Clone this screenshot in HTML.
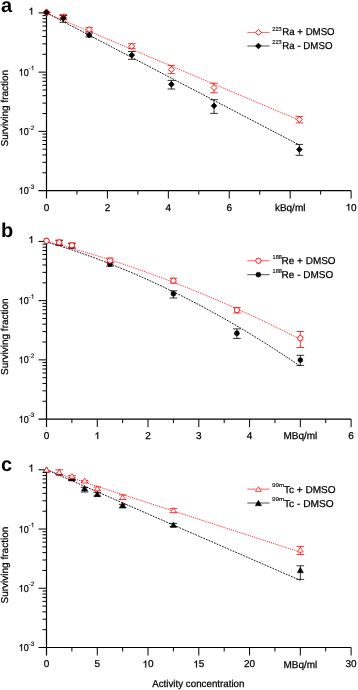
<!DOCTYPE html>
<html><head><meta charset="utf-8"><style>
html,body{margin:0;padding:0;background:#fff;width:358px;height:690px;overflow:hidden}
svg{display:block;font-family:"Liberation Sans",sans-serif;will-change:transform}
text{fill:#000;stroke:#000;stroke-width:0.25px;text-rendering:geometricPrecision}
text.s{stroke-width:0.12px}
</style></head><body>
<svg width="358" height="690" viewBox="0 0 358 690">
<defs><filter id="bl" x="0" y="0" width="100%" height="100%"><feGaussianBlur stdDeviation="0.3"/></filter></defs>
<rect width="358" height="690" fill="#fff"/>
<g filter="url(#bl)">
<path d="M46.50 12.90L299.32 145.00" fill="none" stroke="#000" stroke-width="0.9" stroke-dasharray="1.8 1.1"/>
<path d="M46.50 13.20L299.32 120.27" fill="none" stroke="#ff0000" stroke-width="0.9" stroke-dasharray="1 1"/>
<path d="M46.5 12.9V198.59M38.5 190.59H351.1" stroke="#000" stroke-width="1.2" fill="none"/>
<path d="M38.5 12.90H46.5 M38.5 72.13H46.5 M42.5 54.30H46.5 M42.5 43.87H46.5 M42.5 36.47H46.5 M42.5 30.73H46.5 M42.5 26.04H46.5 M42.5 22.07H46.5 M42.5 18.64H46.5 M42.5 15.61H46.5 M38.5 131.36H46.5 M42.5 113.53H46.5 M42.5 103.10H46.5 M42.5 95.70H46.5 M42.5 89.96H46.5 M42.5 85.27H46.5 M42.5 81.30H46.5 M42.5 77.87H46.5 M42.5 74.84H46.5 M42.5 172.76H46.5 M42.5 162.33H46.5 M42.5 154.93H46.5 M42.5 149.19H46.5 M42.5 144.50H46.5 M42.5 140.53H46.5 M42.5 137.10H46.5 M42.5 134.07H46.5 M76.96 190.59V194.59 M107.42 190.59V198.59 M137.88 190.59V194.59 M168.34 190.59V198.59 M198.80 190.59V194.59 M229.26 190.59V198.59 M259.72 190.59V194.59 M290.18 190.59V198.59 M320.64 190.59V194.59 M351.10 190.59V198.59" stroke="#000" stroke-width="1" fill="none"/>
<path transform="translate(28.44 14.60) scale(0.004883 -0.004883)" d="M763 0H583V1105Q540 1064 470 1022Q360 958 224 905V1075Q330 1122 420 1190Q545 1285 605 1409H763Z" fill="#000" stroke="#000" stroke-width="51.2"/>
<g transform="matrix(0.9 0 0 1 2.870 0)"><path transform="translate(17.58 75.63) scale(0.004883 -0.004883)" d="M763 0H583V1105Q540 1064 470 1022Q360 958 224 905V1075Q330 1122 420 1190Q545 1285 605 1409H763Z" fill="#000" stroke="#000" stroke-width="51.2"/><text x="23.14" y="75.63" font-size="10">0</text></g>
<text x="28.60" y="70.33" font-size="6.5" class="s">-</text>
<path transform="translate(30.76 70.33) scale(0.003174 -0.003174)" d="M763 0H583V1105Q540 1064 470 1022Q360 958 224 905V1075Q330 1122 420 1190Q545 1285 605 1409H763Z" fill="#000" stroke="#000" stroke-width="47.3"/>
<g transform="matrix(0.9 0 0 1 2.870 0)"><path transform="translate(17.58 134.86) scale(0.004883 -0.004883)" d="M763 0H583V1105Q540 1064 470 1022Q360 958 224 905V1075Q330 1122 420 1190Q545 1285 605 1409H763Z" fill="#000" stroke="#000" stroke-width="51.2"/><text x="23.14" y="134.86" font-size="10">0</text></g>
<text x="28.60" y="129.56" font-size="6.5" class="s">-2</text>
<g transform="matrix(0.9 0 0 1 2.870 0)"><path transform="translate(17.58 194.09) scale(0.004883 -0.004883)" d="M763 0H583V1105Q540 1064 470 1022Q360 958 224 905V1075Q330 1122 420 1190Q545 1285 605 1409H763Z" fill="#000" stroke="#000" stroke-width="51.2"/><text x="23.14" y="194.09" font-size="10">0</text></g>
<text x="28.60" y="188.79" font-size="6.5" class="s">-3</text>
<text x="43.72" y="210.59" font-size="10">0</text>
<text x="104.64" y="210.59" font-size="10">2</text>
<text x="165.56" y="210.59" font-size="10">4</text>
<text x="226.48" y="210.59" font-size="10">6</text>
<text x="290.18" y="210.69" font-size="10" text-anchor="middle">kBq/ml</text>
<path transform="translate(345.54 210.59) scale(0.004883 -0.004883)" d="M763 0H583V1105Q540 1064 470 1022Q360 958 224 905V1075Q330 1122 420 1190Q545 1285 605 1409H763Z" fill="#000" stroke="#000" stroke-width="51.2"/>
<text x="351.10" y="210.59" font-size="10">0</text>
<text x="1.0" y="12.2" font-size="20" font-weight="bold" style="stroke-width:0">a</text>
<text transform="translate(8.4 108.20) rotate(-90)" font-size="10" text-anchor="middle">Surviving fraction</text>
<path d="M63.34 15.50V22.30M59.54 15.50H67.14M59.54 22.30H67.14" stroke="#000" stroke-width="0.8" fill="none"/>
<path d="M63.34 14.40V19.50M59.54 14.40H67.14M59.54 19.50H67.14" stroke="#ff0000" stroke-width="0.8" fill="none"/>
<path d="M89.14 33.00V37.00M85.34 33.00H92.94M85.34 37.00H92.94" stroke="#000" stroke-width="0.8" fill="none"/>
<path d="M89.14 27.60V31.40M85.34 27.60H92.94M85.34 31.40H92.94" stroke="#ff0000" stroke-width="0.8" fill="none"/>
<path d="M131.79 51.50V59.30M127.99 51.50H135.59M127.99 59.30H135.59" stroke="#000" stroke-width="0.8" fill="none"/>
<path d="M131.79 43.70V48.40M127.99 43.70H135.59M127.99 48.40H135.59" stroke="#ff0000" stroke-width="0.8" fill="none"/>
<path d="M171.39 80.40V89.00M167.59 80.40H175.19M167.59 89.00H175.19" stroke="#000" stroke-width="0.8" fill="none"/>
<path d="M171.39 65.40V73.70M167.59 65.40H175.19M167.59 73.70H175.19" stroke="#ff0000" stroke-width="0.8" fill="none"/>
<path d="M214.03 99.70V113.40M210.23 99.70H217.83M210.23 113.40H217.83" stroke="#000" stroke-width="0.8" fill="none"/>
<path d="M214.03 83.20V92.80M210.23 83.20H217.83M210.23 92.80H217.83" stroke="#ff0000" stroke-width="0.8" fill="none"/>
<path d="M299.32 144.40V155.30M295.52 144.40H303.12M295.52 155.30H303.12" stroke="#000" stroke-width="0.8" fill="none"/>
<path d="M299.32 116.40V122.90M295.52 116.40H303.12M295.52 122.90H303.12" stroke="#ff0000" stroke-width="0.8" fill="none"/>
<path d="M46.50 8.90L50.10 12.50L46.50 16.10L42.90 12.50Z" fill="#fff" stroke="#ff0000" stroke-width="1"/>
<path d="M63.34 14.40L66.34 17.40L63.34 20.40L60.34 17.40Z" fill="#fff" stroke="#ff0000" stroke-width="0.9"/>
<path d="M89.14 26.50L92.14 29.50L89.14 32.50L86.14 29.50Z" fill="#fff" stroke="#ff0000" stroke-width="0.9"/>
<path d="M131.79 43.30L134.79 46.30L131.79 49.30L128.79 46.30Z" fill="#fff" stroke="#ff0000" stroke-width="0.9"/>
<path d="M171.39 66.50L174.39 69.50L171.39 72.50L168.39 69.50Z" fill="#fff" stroke="#ff0000" stroke-width="0.9"/>
<path d="M214.03 84.60L217.03 87.60L214.03 90.60L211.03 87.60Z" fill="#fff" stroke="#ff0000" stroke-width="0.9"/>
<path d="M299.32 116.40L302.32 119.40L299.32 122.40L296.32 119.40Z" fill="#fff" stroke="#ff0000" stroke-width="0.9"/>
<path d="M46.50 9.65L49.35 12.50L46.50 15.35L43.65 12.50Z" fill="#000" stroke="#000" stroke-width="0.8"/>
<path d="M63.34 15.35L66.19 18.20L63.34 21.05L60.49 18.20Z" fill="#000" stroke="#000" stroke-width="0.8"/>
<path d="M89.14 32.25L91.99 35.10L89.14 37.95L86.29 35.10Z" fill="#000" stroke="#000" stroke-width="0.8"/>
<path d="M131.79 52.25L134.64 55.10L131.79 57.95L128.94 55.10Z" fill="#000" stroke="#000" stroke-width="0.8"/>
<path d="M171.39 81.45L174.24 84.30L171.39 87.15L168.54 84.30Z" fill="#000" stroke="#000" stroke-width="0.8"/>
<path d="M214.03 102.95L216.88 105.80L214.03 108.65L211.18 105.80Z" fill="#000" stroke="#000" stroke-width="0.8"/>
<path d="M299.32 146.65L302.17 149.50L299.32 152.35L296.47 149.50Z" fill="#000" stroke="#000" stroke-width="0.8"/>
<path d="M247.3 32.4H269.6" stroke="#ff6060" stroke-width="1"/>
<path d="M247.3 46.0H269.6" stroke="#666" stroke-width="1.15"/>
<path d="M258.40 29.40L261.40 32.40L258.40 35.40L255.40 32.40Z" fill="#fff" stroke="#ff0000" stroke-width="0.9"/>
<path d="M258.40 43.15L261.25 46.00L258.40 48.85L255.55 46.00Z" fill="#000" stroke="#000" stroke-width="0.8"/>
<text x="272.30" y="30.80" font-size="5.6" class="s" textLength="9.4" lengthAdjust="spacingAndGlyphs">223</text>
<text x="282.30" y="35.40" font-size="10" textLength="52.3" lengthAdjust="spacingAndGlyphs">Ra + DMSO</text>
<text x="272.30" y="44.40" font-size="5.6" class="s" textLength="9.4" lengthAdjust="spacingAndGlyphs">223</text>
<text x="282.30" y="49.00" font-size="10" textLength="50.2" lengthAdjust="spacingAndGlyphs">Ra - DMSO</text>
<path d="M46.50 241.92L51.58 243.44L56.65 245.01L61.73 246.61L66.81 248.25L71.88 249.93L76.96 251.65L82.04 253.41L87.11 255.21L92.19 257.04L97.27 258.92L102.34 260.84L107.42 262.79L112.50 264.79L117.57 266.82L122.65 268.89L127.73 271.01L132.80 273.16L137.88 275.35L142.96 277.58L148.03 279.85L153.11 282.16L158.19 284.51L163.26 286.90L168.34 289.33L173.42 291.79L178.49 294.30L183.57 296.84L188.65 299.43L193.72 302.05L198.80 304.72L203.88 307.42L208.95 310.16L214.03 312.94L219.11 315.76L224.18 318.62L229.26 321.52L234.34 324.46L239.41 327.44L244.49 330.46L249.57 333.51L254.64 336.61L259.72 339.75L264.80 342.92L269.87 346.13L274.95 349.39L280.03 352.68L285.10 356.01L290.18 359.38L295.26 362.79L300.33 366.24" fill="none" stroke="#000" stroke-width="0.9" stroke-dasharray="1.8 1.1"/>
<path d="M46.50 241.51L51.58 242.83L56.65 244.17L61.73 245.54L66.81 246.94L71.88 248.36L76.96 249.81L82.04 251.28L87.11 252.78L92.19 254.31L97.27 255.86L102.34 257.44L107.42 259.05L112.50 260.68L117.57 262.33L122.65 264.02L127.73 265.73L132.80 267.46L137.88 269.22L142.96 271.01L148.03 272.82L153.11 274.66L158.19 276.53L163.26 278.42L168.34 280.34L173.42 282.28L178.49 284.25L183.57 286.24L188.65 288.27L193.72 290.31L198.80 292.39L203.88 294.49L208.95 296.61L214.03 298.76L219.11 300.94L224.18 303.14L229.26 305.37L234.34 307.63L239.41 309.91L244.49 312.22L249.57 314.55L254.64 316.91L259.72 319.30L264.80 321.71L269.87 324.15L274.95 326.61L280.03 329.10L285.10 331.62L290.18 334.16L295.26 336.73L300.33 339.32" fill="none" stroke="#ff0000" stroke-width="0.9" stroke-dasharray="1 1"/>
<path d="M46.5 241.4V427.09000000000003M38.5 419.09000000000003H351.1" stroke="#000" stroke-width="1.2" fill="none"/>
<path d="M38.5 241.40H46.5 M38.5 300.63H46.5 M42.5 282.80H46.5 M42.5 272.37H46.5 M42.5 264.97H46.5 M42.5 259.23H46.5 M42.5 254.54H46.5 M42.5 250.57H46.5 M42.5 247.14H46.5 M42.5 244.11H46.5 M38.5 359.86H46.5 M42.5 342.03H46.5 M42.5 331.60H46.5 M42.5 324.20H46.5 M42.5 318.46H46.5 M42.5 313.77H46.5 M42.5 309.80H46.5 M42.5 306.37H46.5 M42.5 303.34H46.5 M42.5 401.26H46.5 M42.5 390.83H46.5 M42.5 383.43H46.5 M42.5 377.69H46.5 M42.5 373.00H46.5 M42.5 369.03H46.5 M42.5 365.60H46.5 M42.5 362.57H46.5 M71.88 419.09000000000003V423.09000000000003 M97.27 419.09000000000003V427.09000000000003 M122.65 419.09000000000003V423.09000000000003 M148.03 419.09000000000003V427.09000000000003 M173.42 419.09000000000003V423.09000000000003 M198.80 419.09000000000003V427.09000000000003 M224.18 419.09000000000003V423.09000000000003 M249.57 419.09000000000003V427.09000000000003 M274.95 419.09000000000003V423.09000000000003 M300.33 419.09000000000003V427.09000000000003 M325.72 419.09000000000003V423.09000000000003 M351.10 419.09000000000003V427.09000000000003" stroke="#000" stroke-width="1" fill="none"/>
<path transform="translate(28.44 243.10) scale(0.004883 -0.004883)" d="M763 0H583V1105Q540 1064 470 1022Q360 958 224 905V1075Q330 1122 420 1190Q545 1285 605 1409H763Z" fill="#000" stroke="#000" stroke-width="51.2"/>
<g transform="matrix(0.9 0 0 1 2.870 0)"><path transform="translate(17.58 304.13) scale(0.004883 -0.004883)" d="M763 0H583V1105Q540 1064 470 1022Q360 958 224 905V1075Q330 1122 420 1190Q545 1285 605 1409H763Z" fill="#000" stroke="#000" stroke-width="51.2"/><text x="23.14" y="304.13" font-size="10">0</text></g>
<text x="28.60" y="298.83" font-size="6.5" class="s">-</text>
<path transform="translate(30.76 298.83) scale(0.003174 -0.003174)" d="M763 0H583V1105Q540 1064 470 1022Q360 958 224 905V1075Q330 1122 420 1190Q545 1285 605 1409H763Z" fill="#000" stroke="#000" stroke-width="47.3"/>
<g transform="matrix(0.9 0 0 1 2.870 0)"><path transform="translate(17.58 363.36) scale(0.004883 -0.004883)" d="M763 0H583V1105Q540 1064 470 1022Q360 958 224 905V1075Q330 1122 420 1190Q545 1285 605 1409H763Z" fill="#000" stroke="#000" stroke-width="51.2"/><text x="23.14" y="363.36" font-size="10">0</text></g>
<text x="28.60" y="358.06" font-size="6.5" class="s">-2</text>
<g transform="matrix(0.9 0 0 1 2.870 0)"><path transform="translate(17.58 422.59) scale(0.004883 -0.004883)" d="M763 0H583V1105Q540 1064 470 1022Q360 958 224 905V1075Q330 1122 420 1190Q545 1285 605 1409H763Z" fill="#000" stroke="#000" stroke-width="51.2"/><text x="23.14" y="422.59" font-size="10">0</text></g>
<text x="28.60" y="417.29" font-size="6.5" class="s">-3</text>
<text x="43.72" y="439.09" font-size="10">0</text>
<path transform="translate(94.49 439.09) scale(0.004883 -0.004883)" d="M763 0H583V1105Q540 1064 470 1022Q360 958 224 905V1075Q330 1122 420 1190Q545 1285 605 1409H763Z" fill="#000" stroke="#000" stroke-width="51.2"/>
<text x="145.25" y="439.09" font-size="10">2</text>
<text x="196.02" y="439.09" font-size="10">3</text>
<text x="246.79" y="439.09" font-size="10">4</text>
<text x="300.33" y="439.19" font-size="10" text-anchor="middle">MBq/ml</text>
<text x="348.32" y="439.09" font-size="10">6</text>
<text x="1.0" y="237.3" font-size="20" font-weight="bold" style="stroke-width:0">b</text>
<text transform="translate(8.4 336.70) rotate(-90)" font-size="10" text-anchor="middle">Surviving fraction</text>
<path d="M59.19 240.60V245.30M55.39 240.60H62.99M55.39 245.30H62.99" stroke="#000" stroke-width="0.8" fill="none"/>
<path d="M59.19 240.00V244.80M55.39 240.00H62.99M55.39 244.80H62.99" stroke="#ff0000" stroke-width="0.8" fill="none"/>
<path d="M71.88 243.60V248.20M68.08 243.60H75.68M68.08 248.20H75.68" stroke="#000" stroke-width="0.8" fill="none"/>
<path d="M71.88 242.90V247.70M68.08 242.90H75.68M68.08 247.70H75.68" stroke="#ff0000" stroke-width="0.8" fill="none"/>
<path d="M109.96 262.30V266.20M106.16 262.30H113.76M106.16 266.20H113.76" stroke="#000" stroke-width="0.8" fill="none"/>
<path d="M109.96 258.10V262.80M106.16 258.10H113.76M106.16 262.80H113.76" stroke="#ff0000" stroke-width="0.8" fill="none"/>
<path d="M173.42 290.80V298.00M169.62 290.80H177.22M169.62 298.00H177.22" stroke="#000" stroke-width="0.8" fill="none"/>
<path d="M173.42 278.20V283.20M169.62 278.20H177.22M169.62 283.20H177.22" stroke="#ff0000" stroke-width="0.8" fill="none"/>
<path d="M236.88 328.90V338.40M233.08 328.90H240.68M233.08 338.40H240.68" stroke="#000" stroke-width="0.8" fill="none"/>
<path d="M236.88 307.60V313.00M233.08 307.60H240.68M233.08 313.00H240.68" stroke="#ff0000" stroke-width="0.8" fill="none"/>
<path d="M300.33 355.30V365.40M296.53 355.30H304.13M296.53 365.40H304.13" stroke="#000" stroke-width="0.8" fill="none"/>
<path d="M300.33 331.50V347.50M296.53 331.50H304.13M296.53 347.50H304.13" stroke="#ff0000" stroke-width="0.8" fill="none"/>
<circle cx="46.50" cy="240.80" r="2.45" fill="#000" stroke="#000" stroke-width="0.6"/>
<circle cx="59.19" cy="243.00" r="2.45" fill="#000" stroke="#000" stroke-width="0.6"/>
<circle cx="71.88" cy="245.90" r="2.45" fill="#000" stroke="#000" stroke-width="0.6"/>
<circle cx="109.96" cy="264.20" r="2.45" fill="#000" stroke="#000" stroke-width="0.6"/>
<circle cx="173.42" cy="293.80" r="2.45" fill="#000" stroke="#000" stroke-width="0.6"/>
<circle cx="236.88" cy="333.30" r="2.45" fill="#000" stroke="#000" stroke-width="0.6"/>
<circle cx="300.33" cy="360.10" r="2.45" fill="#000" stroke="#000" stroke-width="0.6"/>
<circle cx="46.50" cy="240.80" r="2.65" fill="#fff" stroke="#ff0000" stroke-width="0.9"/>
<circle cx="59.19" cy="242.40" r="2.65" fill="#fff" stroke="#ff0000" stroke-width="0.9"/>
<circle cx="71.88" cy="245.30" r="2.65" fill="#fff" stroke="#ff0000" stroke-width="0.9"/>
<circle cx="109.96" cy="260.50" r="2.65" fill="#fff" stroke="#ff0000" stroke-width="0.9"/>
<circle cx="173.42" cy="280.70" r="2.65" fill="#fff" stroke="#ff0000" stroke-width="0.9"/>
<circle cx="236.88" cy="310.10" r="2.65" fill="#fff" stroke="#ff0000" stroke-width="0.9"/>
<circle cx="300.33" cy="338.20" r="2.65" fill="#fff" stroke="#ff0000" stroke-width="0.9"/>
<path d="M247.3 260.75H269.6" stroke="#ff6060" stroke-width="1"/>
<path d="M247.3 274.65H269.6" stroke="#666" stroke-width="1.15"/>
<circle cx="258.40" cy="260.75" r="2.65" fill="#fff" stroke="#ff0000" stroke-width="0.9"/>
<circle cx="258.40" cy="274.65" r="2.45" fill="#000" stroke="#000" stroke-width="0.6"/>
<text x="272.50" y="259.00" font-size="5.6" class="s" textLength="9.4" lengthAdjust="spacingAndGlyphs">188</text>
<text x="281.60" y="264.00" font-size="10" textLength="54.0" lengthAdjust="spacingAndGlyphs">Re + DMSO</text>
<text x="272.50" y="272.60" font-size="5.6" class="s" textLength="9.4" lengthAdjust="spacingAndGlyphs">188</text>
<text x="281.60" y="277.60" font-size="10" textLength="51.6" lengthAdjust="spacingAndGlyphs">Re - DMSO</text>
<path d="M46.50 469.70L300.33 580.37" fill="none" stroke="#000" stroke-width="0.9" stroke-dasharray="1.8 1.1"/>
<path d="M46.50 469.90L300.33 552.14" fill="none" stroke="#ff0000" stroke-width="0.9" stroke-dasharray="1 1"/>
<path d="M46.5 469.8V655.49M38.5 647.49H351.1" stroke="#000" stroke-width="1.2" fill="none"/>
<path d="M38.5 469.80H46.5 M38.5 529.03H46.5 M42.5 511.20H46.5 M42.5 500.77H46.5 M42.5 493.37H46.5 M42.5 487.63H46.5 M42.5 482.94H46.5 M42.5 478.97H46.5 M42.5 475.54H46.5 M42.5 472.51H46.5 M38.5 588.26H46.5 M42.5 570.43H46.5 M42.5 560.00H46.5 M42.5 552.60H46.5 M42.5 546.86H46.5 M42.5 542.17H46.5 M42.5 538.20H46.5 M42.5 534.77H46.5 M42.5 531.74H46.5 M42.5 629.66H46.5 M42.5 619.23H46.5 M42.5 611.83H46.5 M42.5 606.09H46.5 M42.5 601.40H46.5 M42.5 597.43H46.5 M42.5 594.00H46.5 M42.5 590.97H46.5 M71.88 647.49V651.49 M97.27 647.49V655.49 M122.65 647.49V651.49 M148.03 647.49V655.49 M173.42 647.49V651.49 M198.80 647.49V655.49 M224.18 647.49V651.49 M249.57 647.49V655.49 M274.95 647.49V651.49 M300.33 647.49V655.49 M325.72 647.49V651.49 M351.10 647.49V655.49" stroke="#000" stroke-width="1" fill="none"/>
<path transform="translate(28.44 471.50) scale(0.004883 -0.004883)" d="M763 0H583V1105Q540 1064 470 1022Q360 958 224 905V1075Q330 1122 420 1190Q545 1285 605 1409H763Z" fill="#000" stroke="#000" stroke-width="51.2"/>
<g transform="matrix(0.9 0 0 1 2.870 0)"><path transform="translate(17.58 532.53) scale(0.004883 -0.004883)" d="M763 0H583V1105Q540 1064 470 1022Q360 958 224 905V1075Q330 1122 420 1190Q545 1285 605 1409H763Z" fill="#000" stroke="#000" stroke-width="51.2"/><text x="23.14" y="532.53" font-size="10">0</text></g>
<text x="28.60" y="527.23" font-size="6.5" class="s">-</text>
<path transform="translate(30.76 527.23) scale(0.003174 -0.003174)" d="M763 0H583V1105Q540 1064 470 1022Q360 958 224 905V1075Q330 1122 420 1190Q545 1285 605 1409H763Z" fill="#000" stroke="#000" stroke-width="47.3"/>
<g transform="matrix(0.9 0 0 1 2.870 0)"><path transform="translate(17.58 591.76) scale(0.004883 -0.004883)" d="M763 0H583V1105Q540 1064 470 1022Q360 958 224 905V1075Q330 1122 420 1190Q545 1285 605 1409H763Z" fill="#000" stroke="#000" stroke-width="51.2"/><text x="23.14" y="591.76" font-size="10">0</text></g>
<text x="28.60" y="586.46" font-size="6.5" class="s">-2</text>
<g transform="matrix(0.9 0 0 1 2.870 0)"><path transform="translate(17.58 650.99) scale(0.004883 -0.004883)" d="M763 0H583V1105Q540 1064 470 1022Q360 958 224 905V1075Q330 1122 420 1190Q545 1285 605 1409H763Z" fill="#000" stroke="#000" stroke-width="51.2"/><text x="23.14" y="650.99" font-size="10">0</text></g>
<text x="28.60" y="645.69" font-size="6.5" class="s">-3</text>
<text x="43.72" y="667.49" font-size="10">0</text>
<text x="94.49" y="667.49" font-size="10">5</text>
<path transform="translate(142.47 667.49) scale(0.004883 -0.004883)" d="M763 0H583V1105Q540 1064 470 1022Q360 958 224 905V1075Q330 1122 420 1190Q545 1285 605 1409H763Z" fill="#000" stroke="#000" stroke-width="51.2"/>
<text x="148.03" y="667.49" font-size="10">0</text>
<path transform="translate(193.24 667.49) scale(0.004883 -0.004883)" d="M763 0H583V1105Q540 1064 470 1022Q360 958 224 905V1075Q330 1122 420 1190Q545 1285 605 1409H763Z" fill="#000" stroke="#000" stroke-width="51.2"/>
<text x="198.80" y="667.49" font-size="10">5</text>
<text x="244.01" y="667.49" font-size="10">20</text>
<text x="300.33" y="667.59" font-size="10" text-anchor="middle">MBq/ml</text>
<text x="345.54" y="667.49" font-size="10">30</text>
<text x="1.0" y="471.3" font-size="20" font-weight="bold" style="stroke-width:0">c</text>
<text transform="translate(8.4 565.10) rotate(-90)" font-size="10" text-anchor="middle">Surviving fraction</text>
<path d="M59.19 469.80V474.50M55.39 469.80H62.99M55.39 474.50H62.99" stroke="#ff0000" stroke-width="0.8" fill="none"/>
<path d="M71.88 479.60V480.40M68.08 479.60H75.68M68.08 480.40H75.68" stroke="#000" stroke-width="0.8" fill="none"/>
<path d="M71.88 475.60V477.60M68.08 475.60H75.68M68.08 477.60H75.68" stroke="#ff0000" stroke-width="0.8" fill="none"/>
<path d="M84.58 487.30V492.00M80.78 487.30H88.38M80.78 492.00H88.38" stroke="#000" stroke-width="0.8" fill="none"/>
<path d="M84.58 480.60V482.60M80.78 480.60H88.38M80.78 482.60H88.38" stroke="#ff0000" stroke-width="0.8" fill="none"/>
<path d="M97.27 492.40V496.00M93.47 492.40H101.07M93.47 496.00H101.07" stroke="#000" stroke-width="0.8" fill="none"/>
<path d="M97.27 487.00V490.20M93.47 487.00H101.07M93.47 490.20H101.07" stroke="#ff0000" stroke-width="0.8" fill="none"/>
<path d="M122.65 504.30V507.80M118.85 504.30H126.45M118.85 507.80H126.45" stroke="#000" stroke-width="0.8" fill="none"/>
<path d="M122.65 494.90V499.50M118.85 494.90H126.45M118.85 499.50H126.45" stroke="#ff0000" stroke-width="0.8" fill="none"/>
<path d="M173.42 523.40V526.50M169.62 523.40H177.22M169.62 526.50H177.22" stroke="#000" stroke-width="0.8" fill="none"/>
<path d="M173.42 508.40V512.60M169.62 508.40H177.22M169.62 512.60H177.22" stroke="#ff0000" stroke-width="0.8" fill="none"/>
<path d="M300.33 565.80V579.40M296.53 565.80H304.13M296.53 579.40H304.13" stroke="#000" stroke-width="0.8" fill="none"/>
<path d="M300.33 546.40V554.50M296.53 546.40H304.13M296.53 554.50H304.13" stroke="#ff0000" stroke-width="0.8" fill="none"/>
<path d="M46.50 466.75L49.65 472.25L43.35 472.25Z" fill="#000" stroke="#000" stroke-width="0.5" stroke-linejoin="miter"/>
<path d="M59.19 469.75L62.34 475.25L56.04 475.25Z" fill="#000" stroke="#000" stroke-width="0.5" stroke-linejoin="miter"/>
<path d="M71.88 475.45L75.03 480.95L68.73 480.95Z" fill="#000" stroke="#000" stroke-width="0.5" stroke-linejoin="miter"/>
<path d="M84.58 485.45L87.73 490.95L81.42 490.95Z" fill="#000" stroke="#000" stroke-width="0.5" stroke-linejoin="miter"/>
<path d="M97.27 491.15L100.42 496.65L94.12 496.65Z" fill="#000" stroke="#000" stroke-width="0.5" stroke-linejoin="miter"/>
<path d="M122.65 502.25L125.80 507.75L119.50 507.75Z" fill="#000" stroke="#000" stroke-width="0.5" stroke-linejoin="miter"/>
<path d="M173.42 521.95L176.57 527.45L170.27 527.45Z" fill="#000" stroke="#000" stroke-width="0.5" stroke-linejoin="miter"/>
<path d="M300.33 567.25L303.48 572.75L297.18 572.75Z" fill="#000" stroke="#000" stroke-width="0.5" stroke-linejoin="miter"/>
<path d="M46.50 467.05L49.45 471.95L43.55 471.95Z" fill="#fff" stroke="#ff0000" stroke-width="0.7" stroke-linejoin="miter"/>
<path d="M59.19 469.45L62.14 474.35L56.24 474.35Z" fill="#fff" stroke="#ff0000" stroke-width="0.7" stroke-linejoin="miter"/>
<path d="M71.88 473.55L74.83 478.45L68.93 478.45Z" fill="#fff" stroke="#ff0000" stroke-width="0.7" stroke-linejoin="miter"/>
<path d="M84.58 478.05L87.53 482.95L81.62 482.95Z" fill="#fff" stroke="#ff0000" stroke-width="0.7" stroke-linejoin="miter"/>
<path d="M97.27 485.85L100.22 490.75L94.32 490.75Z" fill="#fff" stroke="#ff0000" stroke-width="0.7" stroke-linejoin="miter"/>
<path d="M122.65 494.65L125.60 499.55L119.70 499.55Z" fill="#fff" stroke="#ff0000" stroke-width="0.7" stroke-linejoin="miter"/>
<path d="M173.42 507.75L176.37 512.65L170.47 512.65Z" fill="#fff" stroke="#ff0000" stroke-width="0.7" stroke-linejoin="miter"/>
<path d="M300.33 547.15L303.28 552.05L297.38 552.05Z" fill="#fff" stroke="#ff0000" stroke-width="0.7" stroke-linejoin="miter"/>
<path d="M247.3 489.15H269.6" stroke="#ff6060" stroke-width="1"/>
<path d="M247.3 503.0H269.6" stroke="#666" stroke-width="1.15"/>
<path d="M258.40 486.70L261.35 491.60L255.45 491.60Z" fill="#fff" stroke="#ff0000" stroke-width="0.7" stroke-linejoin="miter"/>
<path d="M258.40 500.25L261.55 505.75L255.25 505.75Z" fill="#000" stroke="#000" stroke-width="0.5" stroke-linejoin="miter"/>
<text x="272.00" y="487.40" font-size="5.6" class="s" textLength="12.4" lengthAdjust="spacingAndGlyphs">99m</text>
<text x="284.00" y="492.80" font-size="10" textLength="51.6" lengthAdjust="spacingAndGlyphs">Tc + DMSO</text>
<text x="272.00" y="501.30" font-size="5.6" class="s" textLength="12.4" lengthAdjust="spacingAndGlyphs">99m</text>
<text x="284.00" y="506.70" font-size="10" textLength="49.8" lengthAdjust="spacingAndGlyphs">Tc - DMSO</text>
<text x="152.2" y="686.9" font-size="10" textLength="92.3" lengthAdjust="spacingAndGlyphs">Activity concentration</text>
</g>
</svg>
</body></html>
